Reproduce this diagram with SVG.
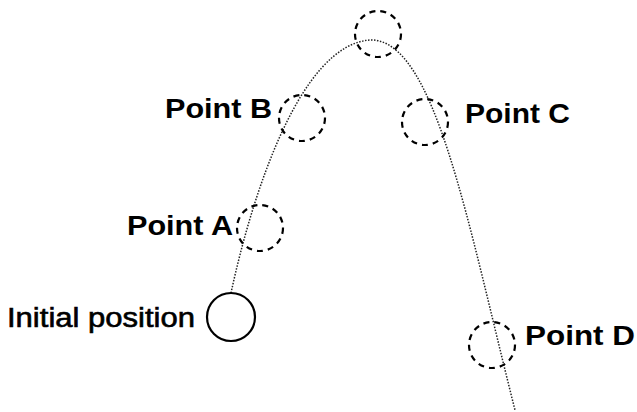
<svg xmlns="http://www.w3.org/2000/svg" width="637" height="412" viewBox="0 0 637 412">
<style>
.lbl{font-family:"Liberation Sans",Arial,sans-serif;font-weight:bold;font-size:27px;fill:#000}
.pt{fill:none;stroke:#000;stroke-width:2.2;stroke-dasharray:6,5}
.path{fill:none;stroke:#222;stroke-width:1.5;stroke-dasharray:1.5,1.5}
</style>
<rect width="637" height="412" fill="#fff"/>
<g id="connectors">
<path class="path" d="M231,293 C252,195 300,45 370,40 C435,38 468,225 515,410"/>
</g>
<g id="top"><circle class="pt" cx="378" cy="34" r="23"/></g>
<g id="pointB"><circle class="pt" cx="302" cy="118" r="23"/><text class="lbl" x="165" y="118" textLength="107" lengthAdjust="spacingAndGlyphs">Point B</text></g>
<g id="pointC"><circle class="pt" cx="425" cy="122" r="23"/><text class="lbl" x="465" y="123" textLength="105" lengthAdjust="spacingAndGlyphs">Point C</text></g>
<g id="pointA"><circle class="pt" cx="260" cy="228" r="23"/><text class="lbl" x="127" y="235" textLength="106" lengthAdjust="spacingAndGlyphs">Point A</text></g>
<g id="initial"><circle fill="none" stroke="#000" stroke-width="2.2" cx="231" cy="317" r="24"/><text class="lbl" x="7" y="327" textLength="188" lengthAdjust="spacingAndGlyphs" style="font-weight:normal;stroke:#000;stroke-width:0.6">Initial position</text></g>
<g id="pointD"><circle class="pt" cx="492" cy="345" r="23"/><text class="lbl" x="525" y="345" textLength="110" lengthAdjust="spacingAndGlyphs">Point D</text></g>
</svg>
